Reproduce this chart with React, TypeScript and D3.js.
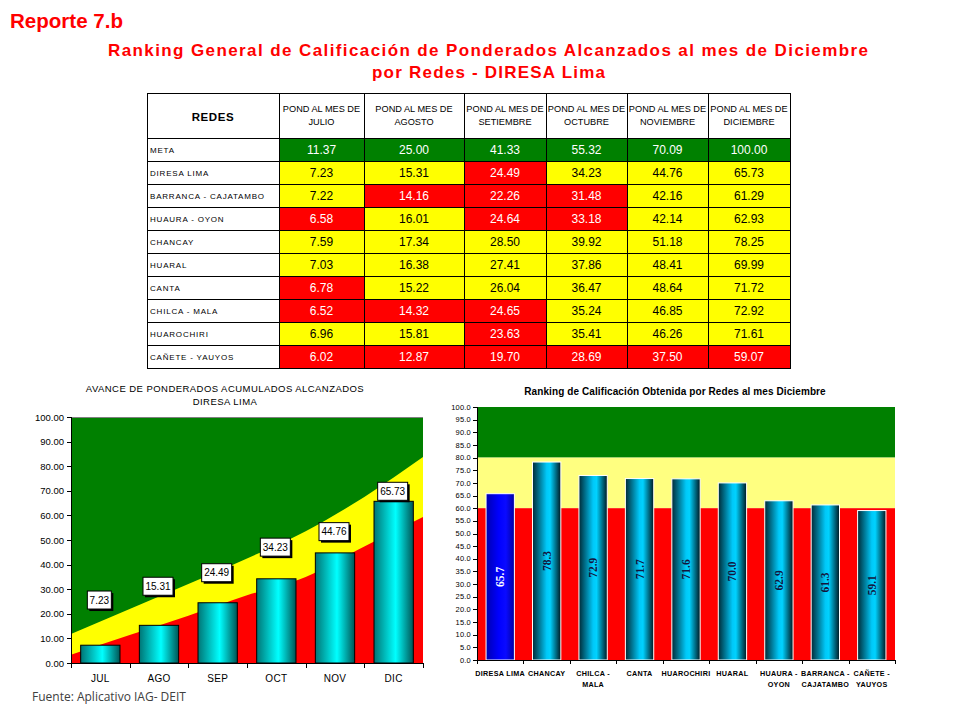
import * as React from "react"
import * as d3 from "d3"

// months of the report
const months = ["JUL", "AGO", "SEP", "OCT", "NOV", "DIC"]
const monthHeaders = ["JULIO", "AGOSTO", "SETIEMBRE", "OCTUBRE", "NOVIEMBRE", "DICIEMBRE"]

// table rows
const rowNames = [
    "META", "DIRESA LIMA", "BARRANCA - CAJATAMBO", "HUAURA - OYON", "CHANCAY",
    "HUARAL", "CANTA", "CHILCA - MALA", "HUAROCHIRI", "CAÑETE - YAUYOS",
]
const meta = [11.37, 25.0, 41.33, 55.32, 70.09, 100.0]
const diresaLima = [7.23, 15.31, 24.49, 34.23, 44.76, 65.73]
const barranca = [7.22, 14.16, 22.26, 31.48, 42.16, 61.29]
const huaura = [6.58, 16.01, 24.64, 33.18, 42.14, 62.93]
const chancay = [7.59, 17.34, 28.5, 39.92, 51.18, 78.25]
const huaral = [7.03, 16.38, 27.41, 37.86, 48.41, 69.99]
const canta = [6.78, 15.22, 26.04, 36.47, 48.64, 71.72]
const chilca = [6.52, 14.32, 24.65, 35.24, 46.85, 72.92]
const huarochiri = [6.96, 15.81, 23.63, 35.41, 46.26, 71.61]
const canete = [6.02, 12.87, 19.7, 28.69, 37.5, 59.07]
const rowValues = [meta, diresaLima, barranca, huaura, chancay, huaral, canta, chilca, huarochiri, canete]

// left chart background bands, read at the 7 category edges
const redBandTop = [3.4, 11.4, 19.2, 27.5, 35.0, 47.4, 59.3]
const yellowBandTop = [11.8, 22.0, 32.1, 42.5, 53.6, 67.5, 83.7]
// where the data label boxes sit (value units)
const labelLevel = [25.6, 31.2, 36.7, 47.1, 53.4, 69.8]
const leftTicks = d3.range(0, 101, 10)

// right chart thresholds
const redLimit = 60
const yellowLimit = 80
const rightTicks = d3.range(0, 101, 5)

const GREEN = "#008000"
const YELLOW = "#ffff00"
const RED = "#ff0000"
const SANS = "'Liberation Sans', Arial, sans-serif"

const cellColor = (v: number, m: number): string => {
    const r = v / m
    return r < 0.6 ? RED : r < 0.8 ? YELLOW : GREEN
}

// ---- table ----
const colX = [147, 279, 364, 464, 546, 627, 708, 790]
const tTop = 93
const tHead = 138
const rowH = 23

function Table(): JSX.Element {
    const rowsY = rowNames.map((_, i) => tHead + i * rowH)
    const bottom = tHead + rowNames.length * rowH
    return (
        <g fontFamily={SANS}>
            {rowValues.map((vals, r) => vals.map((v, c) => {
                const fill = r === 0 ? GREEN : cellColor(v, meta[c])
                return (
                    <g key={r + "-" + c}>
                        <rect x={colX[c + 1]} y={rowsY[r]} width={colX[c + 2] - colX[c + 1]} height={rowH} fill={fill} />
                        <text x={(colX[c + 1] + colX[c + 2]) / 2} y={rowsY[r] + rowH / 2 + 4.5} textAnchor="middle"
                            fontSize={12} fill={fill === YELLOW ? "#000" : "#fff"}>{v.toFixed(2)}</text>
                    </g>
                )
            }))}
            {rowNames.map((n, r) => (
                <text key={n} x={150} y={rowsY[r] + rowH / 2 + 3} fontSize={8} letterSpacing={0.8}>{n}</text>
            ))}
            <text x={(colX[0] + colX[1]) / 2} y={121} textAnchor="middle" fontSize={11.5} fontWeight="bold" letterSpacing={0.6}>REDES</text>
            {monthHeaders.map((h, c) => (
                <g key={h}>
                    <text x={(colX[c + 1] + colX[c + 2]) / 2} y={112} textAnchor="middle" fontSize={9.2}>POND AL MES DE</text>
                    <text x={(colX[c + 1] + colX[c + 2]) / 2} y={124.5} textAnchor="middle" fontSize={9.2}>{h}</text>
                </g>
            ))}
            <g stroke="#000" strokeWidth={1} shapeRendering="crispEdges">
                <rect x={colX[0] + 0.5} y={tTop + 0.5} width={colX[7] - colX[0]} height={bottom - tTop} fill="none" />
                {colX.slice(1, 7).map((x) => <line key={x} x1={x + 0.5} x2={x + 0.5} y1={tTop} y2={bottom} />)}
                {[tHead, ...rowsY.slice(1)].map((y) => <line key={y} x1={colX[0]} x2={colX[7]} y1={y + 0.5} y2={y + 0.5} />)}
            </g>
        </g>
    )
}

// ---- left chart ----
function LeftChart(): JSX.Element {
    const x0 = 71, x1 = 423, yTop = 417, yBot = 663
    const x = d3.scaleBand<string>().domain(months).range([x0, x1]).paddingInner(0.33).paddingOuter(0.165)
    const edge = d3.scaleLinear().domain([0, months.length]).range([x0, x1])
    const y = d3.scaleLinear().domain([0, 100]).range([yBot, yTop])
    const area = (top: number[]): string =>
        d3.area<number>().x((_, i) => edge(i)).y0(y(0)).y1((d) => y(d)).curve(d3.curveMonotoneX)(top) || ""
    const bw = x.bandwidth()
    return (
        <g fontFamily={SANS}>
            <text x={225} y={392} textAnchor="middle" fontSize={9.5} letterSpacing={0.45}>AVANCE DE PONDERADOS ACUMULADOS ALCANZADOS</text>
            <text x={225} y={404.5} textAnchor="middle" fontSize={9.5} letterSpacing={0.45}>DIRESA LIMA</text>
            <rect x={x0} y={yTop} width={x1 - x0} height={yBot - yTop} fill={GREEN} />
            <path d={area(yellowBandTop)} fill={YELLOW} />
            <path d={area(redBandTop)} fill={RED} />
            <line x1={x0} x2={x1} y1={yTop + 0.5} y2={yTop + 0.5} stroke="#808080" />
            {diresaLima.map((v, i) => (
                <rect key={months[i]} x={x(months[i])} y={y(v)} width={bw} height={y(0) - y(v)}
                    fill="url(#leftBarGrad)" stroke="#000" strokeWidth={1} />
            ))}
            <g stroke="#000" shapeRendering="crispEdges">
                <line x1={x0 + 0.5} x2={x0 + 0.5} y1={yTop} y2={yBot} />
                <line x1={x0} x2={x1} y1={yBot + 0.5} y2={yBot + 0.5} />
                {leftTicks.map((t) => <line key={t} x1={x0 - 4} x2={x0} y1={Math.round(y(t)) + 0.5} y2={Math.round(y(t)) + 0.5} />)}
                {d3.range(months.length + 1).map((i) => <line key={i} x1={Math.round(edge(i)) + 0.5} x2={Math.round(edge(i)) + 0.5} y1={yBot} y2={yBot + 5} />)}
            </g>
            {leftTicks.map((t) => (
                <text key={t} x={64} y={y(t) + 3.5} textAnchor="end" fontSize={9.5}>{t.toFixed(2)}</text>
            ))}
            {months.map((m) => (
                <text key={m} x={(x(m) || 0) + bw / 2} y={682} textAnchor="middle" fontSize={10} letterSpacing={0.3}>{m}</text>
            ))}
            {diresaLima.map((v, i) => {
                const label = v.toFixed(2)
                const w = label.length * 6
                const cx = (x(months[i]) || 0) + bw / 2 - 1
                const cy = y(labelLevel[i])
                return (
                    <g key={"l" + i}>
                        <rect x={cx - w / 2 + 2} y={cy - 9 + 2} width={w} height={18} fill="#000" />
                        <rect x={cx - w / 2} y={cy - 9} width={w} height={18} fill="#fff" stroke="#000" strokeWidth={1} />
                        <text x={cx} y={cy + 3.6} textAnchor="middle" fontSize={10}>{label}</text>
                    </g>
                )
            })}
        </g>
    )
}

// ---- right chart ----
function RightChart(): JSX.Element {
    const x0 = 477, x1 = 895, yTop = 407, yBot = 660
    const dic = months.length - 1
    const others = d3.sort(d3.range(2, rowNames.length), (a, b) => rowValues[b][dic] - rowValues[a][dic])
    const order = [1, ...others]
    const names = order.map((i) => rowNames[i])
    const values = order.map((i) => rowValues[i][dic])
    const x = d3.scaleBand<string>().domain(names).range([x0, x1]).paddingInner(0.39).paddingOuter(0.195)
    const y = d3.scaleLinear().domain([0, 100]).range([yBot, yTop])
    const bw = x.bandwidth()
    const step = x.step()
    return (
        <g fontFamily={SANS}>
            <text x={675} y={395} textAnchor="middle" fontSize={10} fontWeight="bold" letterSpacing={0.1}>Ranking de Calificación Obtenida por Redes al mes Diciembre</text>
            <rect x={x0} y={y(100)} width={x1 - x0} height={y(yellowLimit) - y(100)} fill={GREEN} />
            <rect x={x0} y={y(yellowLimit)} width={x1 - x0} height={y(redLimit) - y(yellowLimit)} fill="#ffff80" />
            <rect x={x0} y={y(redLimit)} width={x1 - x0} height={y(0) - y(redLimit)} fill={RED} />
            {values.map((v, i) => (
                <rect key={names[i]} x={x(names[i])} y={y(v)} width={bw} height={y(0) - y(v)}
                    fill={i === 0 ? "url(#blueBarGrad)" : "url(#rankBarGrad)"} stroke="#fff" strokeWidth={1} />
            ))}
            {values.map((v, i) => {
                const cx = (x(names[i]) || 0) + bw / 2
                const cy = y(v / 2)
                return (
                    <text key={"v" + i} transform={`translate(${cx + 4},${cy}) rotate(-90)`} textAnchor="middle"
                        fontFamily="'Liberation Serif', 'Times New Roman', serif" fontWeight="bold" fontSize={11.5}
                        fill={i === 0 ? "#fff" : "#14143c"}>{v.toFixed(1)}</text>
                )
            })}
            <g stroke="#000" shapeRendering="crispEdges">
                <line x1={x0 + 0.5} x2={x0 + 0.5} y1={yTop} y2={yBot} />
                <line x1={x0} x2={x1} y1={yBot + 0.5} y2={yBot + 0.5} />
                {rightTicks.map((t) => <line key={t} x1={x0 - 4} x2={x0} y1={Math.round(y(t)) + 0.5} y2={Math.round(y(t)) + 0.5} />)}
                {d3.range(names.length + 1).map((i) => <line key={i} x1={Math.round(x0 + i * step) + 0.5} x2={Math.round(x0 + i * step) + 0.5} y1={yBot} y2={yBot + 4} />)}
            </g>
            {rightTicks.map((t) => (
                <text key={t} x={471} y={y(t) + 2.6} textAnchor="end" fontSize={7.5} letterSpacing={0.2}>{t.toFixed(1)}</text>
            ))}
            {names.map((n) => {
                const parts = n.split(" - ")
                const cx = (x(n) || 0) + bw / 2
                return (
                    <text key={n} x={cx} y={676} textAnchor="middle" fontSize={7.2} fontWeight="bold" letterSpacing={0.3}>
                        {parts.length > 1 ? (
                            <>
                                <tspan x={cx}>{parts[0] + " -"}</tspan>
                                <tspan x={cx} dy={10.5}>{parts[1]}</tspan>
                            </>
                        ) : n}
                    </text>
                )
            })}
        </g>
    )
}

export default function App(): JSX.Element {
    return (
        <svg width={960} height={720} style={{ position: "absolute", left: 0, top: 0, background: "#fff" }}>
            <defs>
                <linearGradient id="leftBarGrad" x1="0" x2="1" y1="0" y2="0">
                    <stop offset="0" stopColor="#007575" />
                    <stop offset="0.55" stopColor="#00ffff" />
                    <stop offset="1" stopColor="#005555" />
                </linearGradient>
                <linearGradient id="rankBarGrad" x1="0" x2="1" y1="0" y2="0">
                    <stop offset="0" stopColor="#002a36" />
                    <stop offset="0.5" stopColor="#00c8f8" />
                    <stop offset="0.62" stopColor="#00d2ff" />
                    <stop offset="1" stopColor="#001820" />
                </linearGradient>
                <linearGradient id="blueBarGrad" x1="0" x2="1" y1="0" y2="0">
                    <stop offset="0" stopColor="#0000b0" />
                    <stop offset="0.45" stopColor="#0000ff" />
                    <stop offset="0.7" stopColor="#0a0aff" />
                    <stop offset="1" stopColor="#0000a0" />
                </linearGradient>
            </defs>
            <rect width={960} height={720} fill="#fff" />
            <text x={10} y={28} fontFamily={SANS} fontWeight="bold" fontSize={20.5} fill={RED} textLength={113} lengthAdjust="spacingAndGlyphs">Reporte 7.b</text>
            <text x={108} y={56} fontFamily={SANS} fontWeight="bold" fontSize={17} fill={RED} textLength={760} lengthAdjust="spacing">Ranking General de Calificación de Ponderados Alcanzados al mes de Diciembre</text>
            <text x={372} y={78} fontFamily={SANS} fontWeight="bold" fontSize={17} fill={RED} textLength={233} lengthAdjust="spacing">por Redes - DIRESA Lima</text>
            <Table />
            <LeftChart />
            <RightChart />
            <text x={32} y={701} fontFamily="'Open Sans', 'Noto Sans', sans-serif" fontSize={12} fill="#404040">Fuente: Aplicativo IAG- DEIT</text>
        </svg>
    )
}
